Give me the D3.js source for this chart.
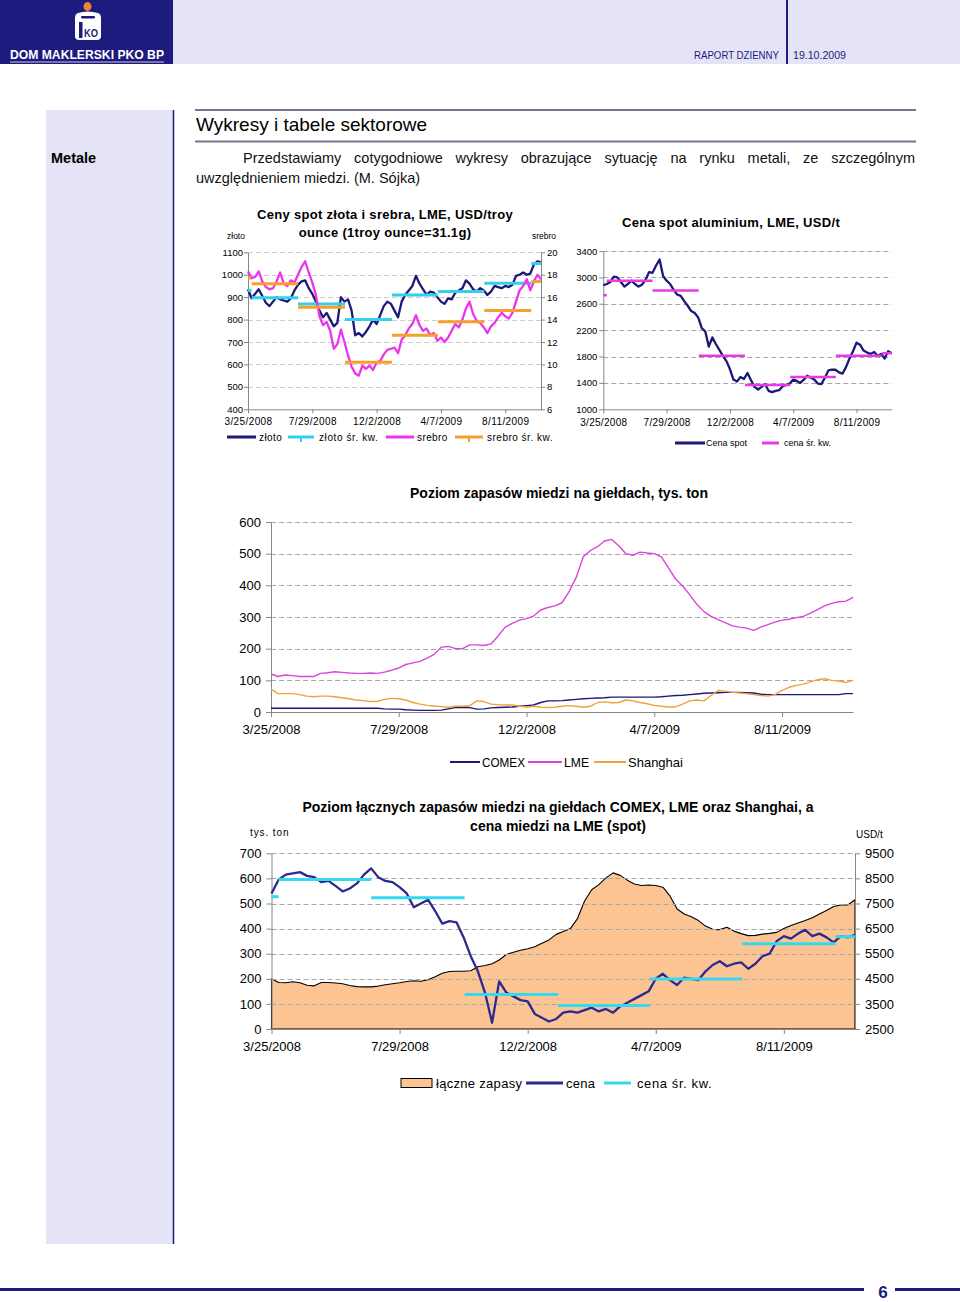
<!DOCTYPE html>
<html lang="pl">
<head>
<meta charset="utf-8">
<title>Raport dzienny - metale</title>
<script src="https://cdn.jsdelivr.net/npm/d3@7/dist/d3.min.js"></script>
<style>
  body { margin: 0; background: #fff; }
  #page { position: relative; width: 960px; height: 1302px; overflow: hidden;
          font-family: "Liberation Sans", Arial, sans-serif; }
  #page svg { position: absolute; left: 0; top: 0; }
  #intro { position: absolute; left: 196px; top: 148px; width: 719px; color: #111;
           font-size: 14.5px; line-height: 20px; text-align: justify; text-indent: 47px; }
</style>
</head>
<body>
<div id="page">
  <svg id="sheet" width="960" height="1302"></svg>
  <div id="intro">Przedstawiamy cotygodniowe wykresy obrazujące sytuację na rynku metali, ze szczególnym uwzględnieniem miedzi. (M. Sójka)</div>
</div>
<script>
// weekly readings, 25.03.2008 - 20.10.2009
var gold = [935,895,915,935,905,875,860,880,900,890, 885,880,895,930,955,970,975,940,915,880,
  840,810,830,800,770,785,900,880,890,840, 730,740,725,745,770,800,780,820,860,880,
  870,840,810,880,910,930,950,995,960,935, 910,925,920,900,880,870,895,890,920,930,
  940,975,960,935,925,940,930,910,925,950, 945,940,950,945,955,995,1000,1010,1000,1005,
  1045,1060,1055];
var silver = [18.3,17.7,17.8,18.3,17.4,16.9,16.7,16.8,17.4,18.2, 17.2,17.0,17.5,17.3,18.0,18.7,19.2,18.2,17.3,16.2,
  14.3,13.5,13.8,13.0,11.4,11.8,13.1,12.0,10.8,9.8, 9.2,9.0,9.9,9.6,9.9,9.5,10.2,10.3,10.9,11.3,
  11.4,11.5,11.0,12.2,12.6,13.2,13.6,14.4,13.5,13.0, 13.2,12.6,12.8,12.1,12.4,12.0,12.4,13.0,13.6,13.3,
  14.0,15.0,15.6,14.5,13.9,13.7,13.3,12.8,13.4,13.7, 14.2,14.6,14.3,14.1,14.6,15.6,16.6,17.0,17.6,16.6,
  17.4,18.0,17.6];
var aluminium = [2880,2900,2930,3010,3000,2930,2860,2900,2950,2900, 2860,2890,2960,3080,3070,3180,3270,3020,2950,2900,
  2810,2740,2720,2640,2570,2490,2460,2390,2230,2180, 1950,2090,1990,1900,1810,1730,1610,1450,1420,1490,
  1460,1550,1440,1340,1300,1340,1380,1280,1260,1280, 1290,1350,1370,1390,1450,1430,1400,1450,1510,1480,
  1450,1390,1380,1480,1590,1600,1600,1560,1540,1640, 1770,1880,2010,1980,1890,1860,1840,1870,1810,1840,
  1770,1880,1850];
var comex = [12,12,12,12,12,12,12,12,12,12, 12,12,12,12,12,12,10,9,9,7,
  6,5,5,5,6,10,14,15,14,9, 10,13,14,15,16,18,20,22,30,35,
  35,36,38,40,42,43,44,45,47,47, 47,47,47,47,47,48,50,52,53,55,
  57,59,60,61,62,62,62,61,60,56, 55,55,55,55,55,55,55,55,55,55,
  55,58,58];
var lme = [120,112,117,115,112,112,112,122,124,127, 125,123,122,122,123,122,126,132,139,150,
  155,160,170,182,205,207,200,200,212,212, 210,215,240,268,280,290,295,303,322,330,
  335,345,380,425,490,510,522,540,545,525, 500,495,505,502,500,490,455,420,398,370,
  340,317,302,292,282,272,268,265,258,268, 276,284,290,293,298,302,312,323,335,343,
  348,350,362];
var shanghai = [72,58,58,58,55,50,48,50,50,48, 45,42,38,36,33,34,40,43,42,38,
  30,25,21,19,17,15,18,18,20,35, 33,25,23,22,22,18,16,18,15,14,
  15,18,20,18,15,18,30,32,29,30, 38,35,30,26,21,18,16,16,25,35,
  38,35,52,68,66,62,60,58,55,52, 50,55,68,78,84,88,95,102,105,100,
  98,93,100];
var totalStocks = [200,185,184,188,184,174,172,185,185,183, 180,173,169,168,168,171,176,180,184,189,
  192,190,196,208,222,229,230,230,232,248, 253,260,275,297,306,314,320,328,342,355,
  377,388,400,440,510,555,575,602,622,612, 593,578,572,574,572,565,530,478,458,447,
  432,410,397,396,405,390,380,372,373,378, 381,385,400,412,422,432,443,458,472,488,
  494,494,515];
var copper = [7900,8450,8650,8700,8750,8600,8550,8350,8400,8200, 7980,8100,8300,8650,8900,8550,8400,8350,8150,7900,
  7350,7500,7650,7200,6700,6800,6750,6150,5400,4800, 3950,2750,4400,3950,3800,3650,3600,3100,2950,2800,
  2900,3150,3200,3150,3250,3350,3200,3300,3150,3400, 3550,3700,3850,4000,4500,4700,4450,4250,4550,4500,
  4450,4800,5050,5200,5000,5100,5150,4900,5100,5400, 5500,6000,6200,6100,6300,6450,6200,6300,6150,5950,
  6200,6150,6250];

// quarterly averages (śr. kw.)
var quarterBreaks = ["2008-03-25","2008-04-01","2008-07-01","2008-10-01","2009-01-01","2009-04-01","2009-07-01","2009-10-01","2009-10-20"];
var goldQ = [930, 897, 870, 800, 910, 925, 962, 1050];
var silverQ = [17.7, 17.2, 15.1, 10.2, 12.6, 13.8, 14.8, 17.4];
var aluminiumQ = [2730, 2950, 2800, 1810, 1370, 1490, 1810, 1850];
var copperQ = [7770, 8460, 7730, 3870, 3440, 4490, 5900, 6180];

var tickDates = ["2008-03-25","2008-07-29","2008-12-02","2009-04-07","2009-08-11"];
var goldTicks = [400,500,600,700,800,900,1000,1100];
var silverTicks = [6,8,10,12,14,16,18,20];
var aluTicks = [1000,1400,1800,2200,2600,3000,3400];
var stockTicks = [0,100,200,300,400,500,600];
var totalTicks = [0,100,200,300,400,500,600,700];
var priceTicks = [2500,3500,4500,5500,6500,7500,8500,9500];


var svg = d3.select("#sheet");
var FONT = '"Liberation Sans", Arial, sans-serif';
var NAVY = "#1d1b7d";
var parseDay = d3.utcParse("%Y-%m-%d");
var fmt = d3.utcFormat("%-m/%-d/%Y");
var num = d3.format("d");
var dayStart = parseDay("2008-03-25"), dayEnd = parseDay("2009-10-20");
var weeks = d3.range(gold.length).map(function (i) { return d3.utcDay.offset(dayStart, 7 * i); });
var qDates = quarterBreaks.map(parseDay);
var tDates = tickDates.map(parseDay);

svg.attr("font-family", FONT);

function label(g, x, y, s, size, opt) {
  opt = opt || {};
  var t = g.append("text").attr("x", x).attr("y", y).attr("font-size", size)
    .attr("fill", opt.fill || "#000").attr("text-anchor", opt.anchor || "start")
    .text(s);
  if (opt.bold) t.attr("font-weight", "bold");
  if (opt.ls) t.attr("letter-spacing", opt.ls);
  if (opt.len) t.attr("textLength", opt.len).attr("lengthAdjust", "spacingAndGlyphs");
  return t;
}

function styleAxis(a, size) {
  a.attr("font-family", FONT).attr("font-size", size);
  a.select(".domain").attr("stroke", "#868686");
  a.selectAll(".tick line").attr("stroke", "#868686");
  a.selectAll(".tick text").attr("fill", "#000");
}

function grid(g, y, ticks, x0, x1, color) {
  g.selectAll(null).data(ticks.slice(1)).enter().append("line")
    .attr("x1", x0).attr("x2", x1)
    .attr("y1", function (d) { return Math.round(y(d)) + 0.5; })
    .attr("y2", function (d) { return Math.round(y(d)) + 0.5; })
    .attr("stroke", color || "#a6a6a6").attr("stroke-dasharray", "5,3");
}

function drawLine(g, x, y, values, color, width) {
  g.append("path").datum(values)
    .attr("fill", "none").attr("stroke", color).attr("stroke-width", width)
    .attr("stroke-linejoin", "round")
    .attr("d", d3.line().x(function (d, i) { return x(weeks[i]); }).y(function (d) { return y(d); }));
}

function drawQuarters(g, x, y, values, color, width) {
  g.selectAll(null).data(values).enter().append("line")
    .attr("x1", function (d, i) { return x(qDates[i]); })
    .attr("x2", function (d, i) { return x(qDates[i + 1]); })
    .attr("y1", function (d) { return y(d); })
    .attr("y2", function (d) { return y(d); })
    .attr("stroke", color).attr("stroke-width", width);
}

function legendLine(g, x1, x2, y, color, width) {
  g.append("line").attr("x1", x1).attr("x2", x2).attr("y1", y).attr("y2", y)
    .attr("stroke", color).attr("stroke-width", width);
}

function bottomAxis(g, x, yPos, size, pad) {
  var a = g.append("g").attr("transform", "translate(0," + yPos + ")")
    .call(d3.axisBottom(x).tickValues(tDates).tickFormat(fmt).tickSize(4).tickSizeOuter(0).tickPadding(pad));
  styleAxis(a, size);
  return a;
}

/* ---------- page frame ---------- */
svg.append("rect").attr("x", 0).attr("y", 0).attr("width", 960).attr("height", 64).attr("fill", "#e4e4f6");
svg.append("rect").attr("x", 0).attr("y", 0).attr("width", 173).attr("height", 64).attr("fill", NAVY);
svg.append("line").attr("x1", 787).attr("x2", 787).attr("y1", 0).attr("y2", 64).attr("stroke", NAVY).attr("stroke-width", 2);
label(svg, 779, 59, "RAPORT DZIENNY", 10, { fill: NAVY, anchor: "end", len: 85 });
label(svg, 793, 59, "19.10.2009", 10, { fill: NAVY, len: 53 });

// logo
svg.append("ellipse").attr("cx", 87.5).attr("cy", 6.5).attr("rx", 4).attr("ry", 4.4).attr("fill", "#f0862a");
svg.append("path").attr("fill", "#fff")
  .attr("d", "M78,13 Q87.5,10 98,13 Q101,14 101,18 V36 Q101,40 97,40 H79 Q75,40 75,36 V18 Q75,14 78,13 Z");
svg.append("rect").attr("x", 81).attr("y", 16).attr("width", 14).attr("height", 2.5).attr("rx", 1).attr("fill", NAVY);
svg.append("rect").attr("x", 79).attr("y", 22).attr("width", 3.5).attr("height", 16).attr("fill", NAVY);
label(svg, 84, 37, "KO", 11, { fill: NAVY, bold: true, len: 14 });
label(svg, 10, 59, "DOM MAKLERSKI PKO BP", 12.5, { fill: "#fff", bold: true, len: 154 });
svg.append("line").attr("x1", 10).attr("x2", 164).attr("y1", 62).attr("y2", 62)
  .attr("stroke", "#9a8fb8").attr("stroke-width", 1.5);

// side column and rules
svg.append("rect").attr("x", 46).attr("y", 110).attr("width", 127).attr("height", 1134).attr("fill", "#e4e4f6");
svg.append("line").attr("x1", 173.5).attr("x2", 173.5).attr("y1", 110).attr("y2", 1244).attr("stroke", NAVY).attr("stroke-width", 1.5);
svg.append("line").attr("x1", 195).attr("x2", 916).attr("y1", 110).attr("y2", 110).attr("stroke", "#74748a").attr("stroke-width", 2);
svg.append("line").attr("x1", 195).attr("x2", 916).attr("y1", 141.5).attr("y2", 141.5).attr("stroke", "#74748a").attr("stroke-width", 2);
label(svg, 196, 131, "Wykresy i tabele sektorowe", 19);
label(svg, 51, 163, "Metale", 14.5, { bold: true });

// footer
svg.append("line").attr("x1", 0).attr("x2", 864).attr("y1", 1289.5).attr("y2", 1289.5).attr("stroke", NAVY).attr("stroke-width", 3);
svg.append("line").attr("x1", 895).attr("x2", 960).attr("y1", 1289.5).attr("y2", 1289.5).attr("stroke", NAVY).attr("stroke-width", 3);
label(svg, 883, 1298, "6", 17, { fill: NAVY, bold: true, anchor: "middle" });

/* ---------- chart 1: gold & silver ---------- */
(function () {
  var g = svg.append("g");
  var left = 248, right = 541, top = 252.3, bottom = 409.3;
  var x = d3.scaleUtc().domain([dayStart, dayEnd]).range([left, right]);
  var y = d3.scaleLinear().domain([400, 1100]).range([bottom, top]);
  var y2 = d3.scaleLinear().domain([6, 20]).range([bottom, top]);

  label(g, 385, 219, "Ceny spot złota i srebra, LME, USD/troy", 13, { bold: true, anchor: "middle", ls: 0.3 });
  label(g, 385, 237, "ounce (1troy ounce=31.1g)", 13, { bold: true, anchor: "middle", ls: 0.3 });
  label(g, 227, 239, "złoto", 8.5);
  label(g, 556, 239, "srebro", 8.5, { anchor: "end" });

  grid(g, y, goldTicks, left, right, "#cfcfcf");
  var a1 = g.append("g").attr("transform", "translate(" + left + ",0)")
    .call(d3.axisLeft(y).tickValues(goldTicks).tickFormat(num).tickSize(4).tickSizeOuter(0).tickPadding(1));
  styleAxis(a1, 9.5);
  var a2 = g.append("g").attr("transform", "translate(" + right + ",0)")
    .call(d3.axisRight(y2).tickValues(silverTicks).tickFormat(num).tickSize(4).tickSizeOuter(0).tickPadding(2));
  styleAxis(a2, 9.5);
  var ax = bottomAxis(g, x, bottom, 10, 5);
  ax.selectAll(".tick text").attr("letter-spacing", 0.4);

  drawLine(g, x, y, gold, "#1b1a78", 2.3);
  drawQuarters(g, x, y, goldQ, "#33cfef", 3);
  drawLine(g, x, y2, silver, "#ee33ee", 2.3);
  drawQuarters(g, x, y2, silverQ, "#f5a02a", 3);

  var ly = 437;
  legendLine(g, 227, 256, ly, "#1b1a78", 3);
  label(g, 259, ly + 3.5, "złoto", 10, { ls: 0.4 });
  legendLine(g, 288, 314, ly, "#33cfef", 3);
  g.append("rect").attr("x", 300).attr("y", ly + 1).attr("width", 2).attr("height", 4).attr("fill", "#33cfef");
  label(g, 319, ly + 3.5, "złoto śr. kw.", 10, { ls: 0.6 });
  legendLine(g, 386, 414, ly, "#ee33ee", 3);
  label(g, 417, ly + 3.5, "srebro", 10, { ls: 0.4 });
  legendLine(g, 455, 483, ly, "#f5a02a", 3);
  g.append("rect").attr("x", 468).attr("y", ly + 1).attr("width", 2).attr("height", 4).attr("fill", "#f5a02a");
  label(g, 487, ly + 3.5, "srebro śr. kw.", 10, { ls: 0.5 });
})();

/* ---------- chart 2: aluminium ---------- */
(function () {
  var g = svg.append("g");
  var left = 603.3, right = 891.7, top = 251, bottom = 409.3;
  var x = d3.scaleUtc().domain([dayStart, dayEnd]).range([left, right]);
  var y = d3.scaleLinear().domain([1000, 3400]).range([bottom, top]);

  label(g, 731, 227, "Cena spot aluminium, LME, USD/t", 13, { bold: true, anchor: "middle", ls: 0.3 });
  grid(g, y, aluTicks, left, right);
  var a1 = g.append("g").attr("transform", "translate(" + left + ",0)")
    .call(d3.axisLeft(y).tickValues(aluTicks).tickFormat(num).tickSize(4).tickSizeOuter(0).tickPadding(2));
  styleAxis(a1, 9.5);
  var ax = bottomAxis(g, x, bottom, 10, 5.5);
  ax.selectAll(".tick text").attr("letter-spacing", 0.3);

  drawLine(g, x, y, aluminium, "#1b1a78", 2.3);
  drawQuarters(g, x, y, aluminiumQ, "#e83be8", 2.5);

  var ly = 443;
  legendLine(g, 675, 705, ly, "#1b1a78", 3);
  label(g, 706, ly + 3.3, "Cena spot", 9);
  legendLine(g, 762, 779, ly, "#e83be8", 3);
  label(g, 784, ly + 3.3, "cena śr. kw.", 9);
})();

/* ---------- chart 3: copper stocks per exchange ---------- */
(function () {
  var g = svg.append("g");
  var left = 271, right = 853, top = 522, bottom = 712;
  var x = d3.scaleUtc().domain([dayStart, dayEnd]).range([left, right]);
  var y = d3.scaleLinear().domain([0, 600]).range([bottom, top]);

  label(g, 559, 498, "Poziom zapasów miedzi na giełdach, tys. ton", 14, { bold: true, anchor: "middle" });
  grid(g, y, stockTicks, left, right);
  var a1 = g.append("g").attr("transform", "translate(" + left + ",0)")
    .call(d3.axisLeft(y).tickValues(stockTicks).tickFormat(num).tickSize(5).tickSizeOuter(0).tickPadding(5));
  styleAxis(a1, 13);
  bottomAxis(g, x, bottom, 13, 9).selectAll(".tick line").attr("y2", 5);

  drawLine(g, x, y, comex, "#1b1a78", 1.4);
  drawLine(g, x, y, lme, "#dd44dd", 1.4);
  drawLine(g, x, y, shanghai, "#f0a23c", 1.4);

  var ly = 762;
  legendLine(g, 450, 480, ly, "#1b1a78", 2);
  label(g, 482, ly + 4.5, "COMEX", 13, { len: 43 });
  legendLine(g, 528, 562, ly, "#dd44dd", 2);
  label(g, 564, ly + 4.5, "LME", 13, { len: 25 });
  legendLine(g, 594, 626, ly, "#f0a23c", 2);
  label(g, 628, ly + 4.5, "Shanghai", 13);
})();

/* ---------- chart 4: total copper stocks vs LME price ---------- */
(function () {
  var g = svg.append("g");
  var left = 271.5, right = 855, top = 853.3, bottom = 1029;
  var x = d3.scaleUtc().domain([dayStart, dayEnd]).range([left, right]);
  var y = d3.scaleLinear().domain([0, 700]).range([bottom, top]);
  var y2 = d3.scaleLinear().domain([2500, 9500]).range([bottom, top]);

  label(g, 558, 812, "Poziom łącznych zapasów miedzi na giełdach COMEX, LME oraz Shanghai, a", 14, { bold: true, anchor: "middle" });
  label(g, 558, 831, "cena miedzi na LME (spot)", 14, { bold: true, anchor: "middle" });
  label(g, 250, 836, "tys. ton", 10, { ls: 0.9 });
  label(g, 856, 838, "USD/t", 10);

  g.append("path").datum(totalStocks).attr("fill", "#fcc493")
    .attr("stroke", "#000").attr("stroke-width", 1.1).attr("stroke-linejoin", "round")
    .attr("d", d3.area().x(function (d, i) { return x(weeks[i]); }).y0(y(0)).y1(function (d) { return y(d); }));

  grid(g, y, totalTicks, left, right);
  var a1 = g.append("g").attr("transform", "translate(" + left + ",0)")
    .call(d3.axisLeft(y).tickValues(totalTicks).tickFormat(num).tickSize(5).tickSizeOuter(0).tickPadding(5));
  styleAxis(a1, 13);
  var a2 = g.append("g").attr("transform", "translate(" + right + ",0)")
    .call(d3.axisRight(y2).tickValues(priceTicks).tickFormat(num).tickSize(5).tickSizeOuter(0).tickPadding(5));
  styleAxis(a2, 13);
  bottomAxis(g, x, bottom, 13, 9).selectAll(".tick line").attr("y2", 5);

  drawLine(g, x, y2, copper, "#2b2a8e", 2.3);
  drawQuarters(g, x, y2, copperQ, "#35d8ee", 3);

  var ly = 1083;
  g.append("rect").attr("x", 401).attr("y", ly - 4.5).attr("width", 31).attr("height", 9)
    .attr("fill", "#fcc493").attr("stroke", "#000").attr("stroke-width", 1);
  label(g, 436, ly + 4.5, "łączne zapasy", 13, { ls: 0.3 });
  legendLine(g, 526, 563, ly, "#2b2a8e", 3);
  label(g, 566, ly + 4.5, "cena", 13, { ls: 0.3 });
  legendLine(g, 604, 631, ly, "#35d8ee", 3);
  label(g, 637, ly + 4.5, "cena śr. kw.", 13, { ls: 0.6 });
})();
</script>
</body>
</html>
